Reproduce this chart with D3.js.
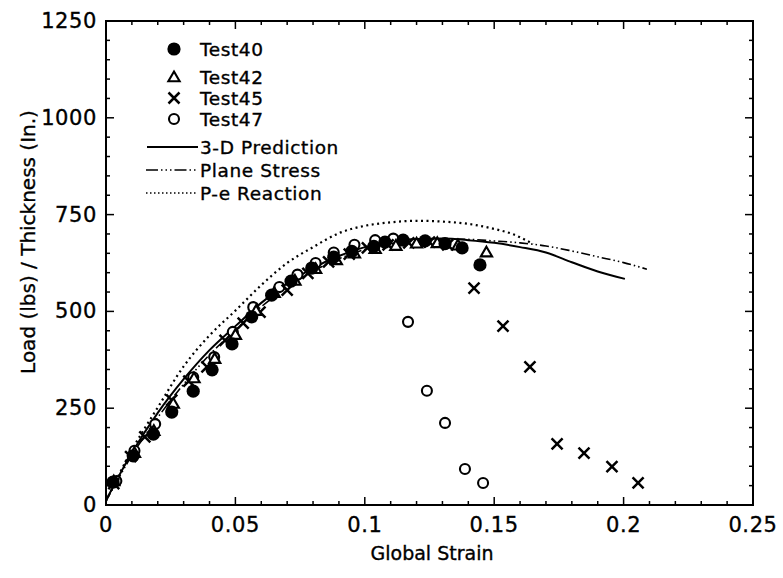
<!DOCTYPE html>
<html><head><meta charset="utf-8">
<script src="https://cdn.jsdelivr.net/npm/d3@7"></script>
<style>body{margin:0;background:#fff}svg{display:block}</style>
</head><body>
<svg id="c" width="783" height="578"></svg>
<script>
// ---- data ----
const xTicks = [0, 0.05, 0.1, 0.15, 0.2, 0.25];
const xTickLabels = ["0", "0.05", "0.1", "0.15", "0.2", "0.25"];
const yTicks = [0, 250, 500, 750, 1000, 1250];
const yTickLabels = ["0", "250", "500", "750", "1000", "1250"];

const test40 = [[0.0027,59],[0.0105,127],[0.0183,183],[0.0254,240],[0.0337,294],[0.041,349],[0.0487,416],[0.0563,486],[0.064,542],[0.0715,578],[0.0795,612],[0.088,640],[0.095,655],[0.1035,668],[0.1078,679],[0.1148,684],[0.1233,682],[0.131,675],[0.1376,664],[0.1445,620]];
const test42 = [[0.003,62],[0.011,135],[0.0185,192],[0.026,262],[0.034,328],[0.042,378],[0.05,440],[0.058,502],[0.065,548],[0.073,580],[0.081,610],[0.089,633],[0.096,650],[0.104,662],[0.112,670],[0.12,676],[0.128,677],[0.136,671],[0.147,653]];
const test45 = [[0.003,55],[0.0095,125],[0.015,176],[0.0254,271],[0.032,320],[0.039,357],[0.046,425],[0.053,470],[0.0595,498],[0.07,555],[0.078,598],[0.086,628],[0.094,648],[0.101,664],[0.109,672],[0.117,677],[0.125,679],[0.132,672],[0.1422,560],[0.1534,462],[0.1638,357],[0.1743,158],[0.1847,134],[0.1955,99],[0.2056,57]];
const test47 = [[0.004,62],[0.011,140],[0.019,209],[0.0337,330],[0.0418,382],[0.049,447],[0.0569,511],[0.067,563],[0.074,595],[0.081,625],[0.088,652],[0.096,672],[0.104,684],[0.111,688],[0.1167,473],[0.124,295],[0.131,212],[0.1387,93],[0.1457,57]];

const pred3D = [[0,12],[0.01,135],[0.02,238],[0.03,325],[0.04,400],[0.05,462],[0.06,522],[0.07,572],[0.08,612],[0.09,643],[0.1,666],[0.11,680],[0.12,687],[0.13,688],[0.14,684],[0.15,677],[0.16,666],[0.17,652],[0.18,627],[0.19,603],[0.2005,584]];
const planeStress = [[0,10],[0.01,128],[0.02,226],[0.03,312],[0.04,388],[0.05,452],[0.06,512],[0.07,563],[0.08,604],[0.09,636],[0.1,660],[0.11,676],[0.12,684],[0.13,687],[0.14,686],[0.15,682],[0.16,677],[0.17,669],[0.18,656],[0.19,641],[0.2,626],[0.209,609]];
const peReaction = [[0,10],[0.01,142],[0.02,252],[0.03,358],[0.04,438],[0.05,502],[0.06,568],[0.07,625],[0.08,666],[0.09,702],[0.1,721],[0.11,730],[0.12,734],[0.13,732],[0.14,726],[0.15,713],[0.157,700],[0.165,674]];

const legendLabels = ["Test40","Test42","Test45","Test47","3-D Prediction","Plane Stress","P-e Reaction"];

// ---- layout ----
const svg = d3.select("#c");
const L = 106, R = 753, T = 21, B = 505;
const x = d3.scaleLinear().domain([0, 0.25]).range([L, R]);
const y = d3.scaleLinear().domain([0, 1250]).range([B, T]);
const font = "'DejaVu Sans', Verdana, sans-serif";
function txt(g, s, size) {
  return g.append("text").attr("font-family", font).attr("font-size", size)
    .attr("fill", "#000").attr("stroke", "#000").attr("stroke-width", 0.35).text(s);
}

// frame
svg.append("rect").attr("x", L).attr("y", T).attr("width", R - L).attr("height", B - T)
  .attr("fill", "none").attr("stroke", "#000").attr("stroke-width", 2);

// ticks (inward, all four sides)
const xMinor = d3.range(0, 0.2501, 0.01);
const yMinor = d3.range(0, 1251, 50);
const tk = svg.append("g").attr("stroke", "#000").attr("stroke-width", 1.5);
xMinor.forEach((v, i) => {
  const len = (i % 5 === 0) ? 8 : 4;
  tk.append("line").attr("x1", x(v)).attr("x2", x(v)).attr("y1", B).attr("y2", B - len);
  tk.append("line").attr("x1", x(v)).attr("x2", x(v)).attr("y1", T).attr("y2", T + len);
});
yMinor.forEach((v, i) => {
  const len = (i % 5 === 0) ? 8 : 4;
  tk.append("line").attr("y1", y(v)).attr("y2", y(v)).attr("x1", L).attr("x2", L + len);
  tk.append("line").attr("y1", y(v)).attr("y2", y(v)).attr("x1", R).attr("x2", R - len);
});

// tick labels
xTicks.forEach((v, i) => {
  txt(svg, xTickLabels[i], 21).attr("x", x(v)).attr("y", B + 27).attr("text-anchor", "middle")
    .attr("letter-spacing", 0.6);
});
yTicks.forEach((v, i) => {
  txt(svg, yTickLabels[i], 21).attr("x", L - 9).attr("y", y(v) + 7).attr("text-anchor", "end")
    .attr("letter-spacing", 0.6);
});

// axis titles
txt(svg, "Global Strain", 19).attr("x", 432).attr("y", 560).attr("text-anchor", "middle");
txt(svg, "Load (lbs) / Thickness (In.)", 20).attr("transform", "translate(35,242) rotate(-90)")
  .attr("text-anchor", "middle");

// curves
const line = d3.line().x(d => x(d[0])).y(d => y(d[1])).curve(d3.curveMonotoneX);
svg.append("path").attr("d", line(peReaction)).attr("fill", "none").attr("stroke", "#000")
  .attr("stroke-width", 2.2).attr("stroke-dasharray", "2,3.5");
svg.append("path").attr("d", line(planeStress)).attr("fill", "none").attr("stroke", "#000")
  .attr("stroke-width", 1.6).attr("stroke-dasharray", "9,3,1.5,3,1.5,3");
svg.append("path").attr("d", line(pred3D)).attr("fill", "none").attr("stroke", "#000")
  .attr("stroke-width", 2);

// markers
const tri = d3.symbol().type(d3.symbolTriangle).size(55);
function drawFilled(g, cx, cy) { g.append("circle").attr("cx", cx).attr("cy", cy).attr("r", 6.6).attr("fill", "#000"); }
function drawOpen(g, cx, cy) { g.append("circle").attr("cx", cx).attr("cy", cy).attr("r", 5).attr("fill", "#fff").attr("stroke", "#000").attr("stroke-width", 2.1); }
function drawTri(g, cx, cy) { g.append("path").attr("d", tri()).attr("transform", `translate(${cx},${cy + 1})`).attr("fill", "#fff").attr("stroke", "#000").attr("stroke-width", 2.1); }
function drawX(g, cx, cy) {
  const s = 5.5;
  g.append("path").attr("d", `M${cx - s},${cy - s}L${cx + s},${cy + s}M${cx - s},${cy + s}L${cx + s},${cy - s}`)
    .attr("stroke", "#000").attr("stroke-width", 2.5).attr("fill", "none");
}
const mg = svg.append("g");
test47.forEach(d => drawOpen(mg, x(d[0]), y(d[1])));
test45.forEach(d => drawX(mg, x(d[0]), y(d[1])));
test42.forEach(d => drawTri(mg, x(d[0]), y(d[1])));
test40.forEach(d => drawFilled(mg, x(d[0]), y(d[1])));

// legend
const lg = svg.append("g");
const lx = 174, tx = 200;
const rowsY = [49, 77, 98, 119, 147, 170, 193];
drawFilled(lg, lx, rowsY[0]);
drawTri(lg, lx, rowsY[1]);
drawX(lg, lx, rowsY[2]);
drawOpen(lg, lx, rowsY[3]);
lg.append("line").attr("x1", 147).attr("x2", 198).attr("y1", rowsY[4]).attr("y2", rowsY[4]).attr("stroke", "#000").attr("stroke-width", 2);
lg.append("line").attr("x1", 146).attr("x2", 198).attr("y1", rowsY[5]).attr("y2", rowsY[5]).attr("stroke", "#000").attr("stroke-width", 1.6).attr("stroke-dasharray", "12,3,1.5,3,1.5,3,1.5,3");
lg.append("line").attr("x1", 146).attr("x2", 198).attr("y1", rowsY[6]).attr("y2", rowsY[6]).attr("stroke", "#000").attr("stroke-width", 1.6).attr("stroke-dasharray", "1.5,2.5");
legendLabels.forEach((t, i) => {
  txt(lg, t, 18.5).attr("x", tx).attr("y", rowsY[i] + 7).attr("letter-spacing", 0.6);
});
</script>
</body></html>
